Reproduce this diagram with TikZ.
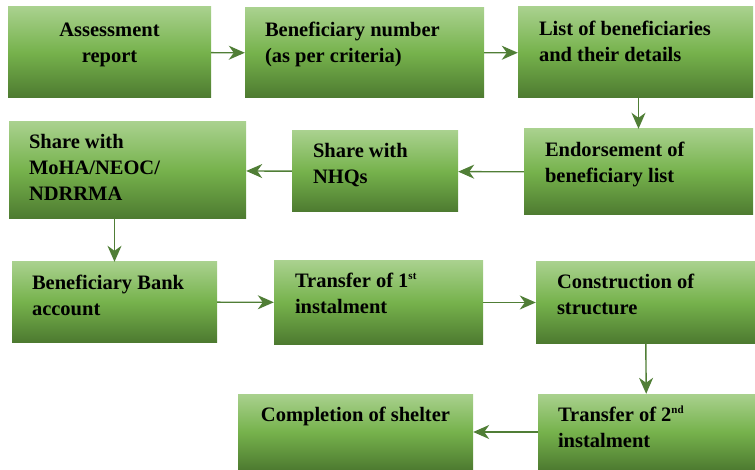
\documentclass[tikz,border=0pt]{standalone}
\usepackage{fontspec}
\setmainfont{Liberation Serif}
\usetikzlibrary{arrows.meta}

\definecolor{boxtop}{HTML}{A9D18E}
\definecolor{boxmid}{HTML}{76B24C}
\definecolor{boxbot}{HTML}{4D7A30}
\definecolor{arrowgreen}{HTML}{507E36}

\newcommand{\ordsup}[1]{\raisebox{0.42em}{\fontsize{11}{11}\selectfont #1}}

\tikzset{
  stagebox/.style={inner sep=0pt, top color=boxtop, bottom color=boxbot, middle color=boxmid},
  stagetext/.style={inner sep=0pt, align=left, anchor=base west,
    font=\fontsize{20.5}{26}\selectfont\bfseries, text=black},
  flow/.style={draw=arrowgreen, line width=1.4pt,
    -{Stealth[length=16pt,width=14pt,inset=5pt]}}
}

\begin{document}
\begin{tikzpicture}[x=1pt,y=-1pt]
		\useasboundingbox (0,0) rectangle (755,470);
		% 箱の描画
		\node[stagebox, minimum width=203pt, minimum height=91pt] (b1) at (109.5,52.5) {};
		\node[stagebox, minimum width=239pt, minimum height=90pt] (b2) at (364.5,53) {};
		\node[stagebox, minimum width=235pt, minimum height=91pt] (b3) at (635.5,52.5) {};
		\node[stagebox, minimum width=229pt, minimum height=86pt] (b4) at (638.5,172) {};
		\node[stagebox, minimum width=166pt, minimum height=81pt] (b5) at (375,171.5) {};
		\node[stagebox, minimum width=237pt, minimum height=97pt] (b6) at (127.5,170.5) {};
		\node[stagebox, minimum width=205pt, minimum height=80pt] (b7) at (114.5,302) {};
		\node[stagebox, minimum width=209pt, minimum height=83pt] (b8) at (378.5,302.5) {};
		\node[stagebox, minimum width=219pt, minimum height=81pt] (b9) at (645.5,302.5) {};
		\node[stagebox, minimum width=217pt, minimum height=76pt] (b10) at (646.5,432) {};
		\node[stagebox, minimum width=235pt, minimum height=76pt] (b11) at (355.5,432) {};
		% 文字の描画 (基準線は最終行)
		\node[stagetext, anchor=base, align=center, yshift=-56pt] (t1) at (b1.north) {Assessment\\report};
		\node[stagetext, xshift=20pt, yshift=-55pt] (t2) at (b2.north west) {Beneficiary number\\(as per criteria)};
		\node[stagetext, xshift=21pt, yshift=-55pt] (t3) at (b3.north west) {List of beneficiaries\\and their details};
		\node[stagetext, xshift=21pt, yshift=-54pt] (t4) at (b4.north west) {Endorsement of\\beneficiary list};
		\node[stagetext, xshift=21pt, yshift=-53pt] (t5) at (b5.north west) {Share with\\NHQs};
		\node[stagetext, xshift=20pt, yshift=-79pt] (t6) at (b6.north west) {Share with\\MoHA/NEOC/\\NDRRMA};
		\node[stagetext, xshift=20pt, yshift=-54pt] (t7) at (b7.north west) {Beneficiary Bank\\account};
		\node[stagetext, xshift=21pt, yshift=-53pt] (t8) at (b8.north west) {Transfer of 1\ordsup{st}\\instalment};
		\node[stagetext, xshift=21pt, yshift=-53pt] (t9) at (b9.north west) {Construction of\\structure};
		\node[stagetext, xshift=20pt, yshift=-54pt] (t10) at (b10.north west) {Transfer of 2\ordsup{nd}\\instalment};
		\node[stagetext, anchor=base, align=center, yshift=-28pt] (t11) at (b11.north) {Completion of shelter};
		% 矢印の描画
		\draw[flow] (b1) -- (b2);
		\draw[flow] (b2) -- (b3);
		\draw[flow] (b3.south -| b4.north) -- (b4.north);
		\draw[flow] (b4) -- (b5);
		\draw[flow] (b5) -- (b6);
		\draw[flow] (b6.south -| b7.north) -- (b7.north);
		\draw[flow] (b7) -- (b8);
		\draw[flow] (b8) -- (b9);
		\draw[flow] (b9) -- (b10);
		\draw[flow] (b10) -- (b11);
	\end{tikzpicture}
\end{document}
